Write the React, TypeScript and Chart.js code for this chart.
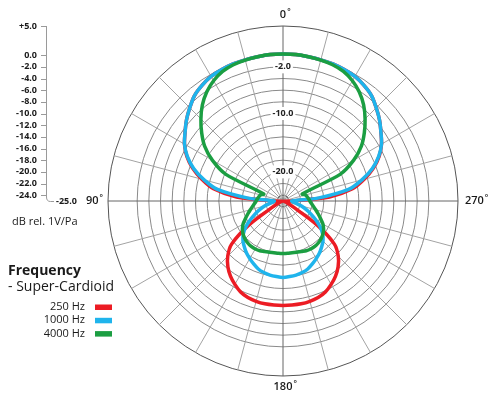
import { useEffect, useRef } from "react";
import { Chart, registerables } from "chart.js";

Chart.register(...registerables);

// Directions round the plot, in the order Chart.js lays them out (clockwise on
// screen). The plot counts degrees the other way, so 270 sits on the right.
const ANGLES = Array.from({ length: 72 }, (_, i) => (360 - i * 5) % 360);

// Response in dB rel. 1V/Pa, one value per entry of ANGLES
const HZ_250 = [
  0.2, 0.2, 0.1, 0.05, 0.0, -0.15, -0.35, -0.8, -1.4, -2.4, -3.4, -4.5, -5.5,
  -6.8, -8.5, -10.6, -12.9, -17.0, -23.5, -24.5, -24.8, -24.8, -24.6, -24.2,
  -23.0, -18.0, -13.5, -11.6, -10.3, -9.3, -8.5, -7.8, -7.4, -7.2, -7.1, -7.1,
  -7.1,
  -7.1, -7.1, -7.2, -7.4, -7.8, -8.5, -9.3, -10.3, -11.6, -13.5, -18.0, -23.0,
  -24.2, -24.6, -24.8, -24.8, -24.5, -23.5, -17.0, -12.9, -10.6, -8.5, -6.8,
  -5.5, -4.5, -3.4, -2.4, -1.4, -0.8, -0.35, -0.15, 0.0, 0.05, 0.1, 0.2,
];
const HZ_1000 = [
  0.2, 0.2, 0.1, 0.05, 0.0, -0.15, -0.35, -0.8, -1.4, -2.4, -3.4, -4.5, -5.5,
  -6.9, -8.7, -11.0, -13.6, -18.8, -23.5, -23.3, -22.7, -21.8, -20.8, -19.7,
  -18.5, -17.2, -16.1, -15.3, -14.7, -14.1, -13.6, -13.1, -12.6, -12.3, -12.1,
  -12.0, -11.9,
  -12.0, -12.1, -12.3, -12.6, -13.1, -13.6, -14.1, -14.7, -15.3, -16.1, -17.2,
  -18.5, -19.7, -20.8, -21.8, -22.7, -23.3, -23.5, -18.8, -13.6, -11.0, -8.7,
  -6.9, -5.5, -4.5, -3.4, -2.4, -1.4, -0.8, -0.35, -0.15, 0.0, 0.05, 0.1, 0.2,
];
const HZ_4000 = [
  0.2, 0.2, 0.1, 0.0, -0.15, -0.5, -1.2, -2.2, -3.5, -5.1, -6.8, -8.6, -11.0,
  -14.2, -21.5, -21.0, -20.8, -20.6, -20.4, -20.1, -19.7, -19.2, -18.6, -17.9,
  -17.1, -16.5, -16.1, -15.8, -15.6, -15.5, -15.5, -15.6, -15.8, -15.9, -16.0,
  -16.0, -16.0,
  -16.0, -16.0, -15.9, -15.8, -15.6, -15.5, -15.5, -15.6, -15.8, -16.1, -16.5,
  -17.1, -17.9, -18.6, -19.2, -19.7, -20.1, -20.4, -20.6, -20.8, -21.0, -21.5,
  -14.2, -11.0, -8.6, -6.8, -5.1, -3.5, -2.2, -1.2, -0.5, -0.15, 0.0, 0.1, 0.2,
];

const SERIES_NAMES = ["250 Hz", "1000 Hz", "4000 Hz"];
const SERIES_COLORS = ["#ec1c24", "#1fb4ec", "#1b9e42"];

// rings of the polar grid, and the side scale
const RINGS = [-25, -24, -22, -20, -18, -16, -14, -12, -10, -8, -6, -4, -2, 0, 5];
const RING_LABELS = [-2, -10, -20];
const SIDE_TICKS = [5, 0, -2, -4, -6, -8, -10, -12, -14, -16, -18, -20, -22, -24];
const SIDE_BOTTOM = -25;
const DIRECTION_LABELS = [0, 90, 180, 270];

const FONT = "'Open Sans', 'DejaVu Sans', sans-serif";
const fmt = (v: number) => (v > 0 ? "+" : "") + v.toFixed(1);

const decorations = {
  id: "decorations",
  afterDraw(chart: any) {
    const { ctx } = chart;
    const s = chart.scales.r;
    const R = s.drawingArea;
    const yOf = (v: number) => s.yCenter - s.getDistanceFromCenterForValue(v);
    ctx.save();
    ctx.fillStyle = "#1a1a1a";
    ctx.textBaseline = "middle";

    // 0 / 90 / 180 / 270 marks
    DIRECTION_LABELS.forEach((a) => {
      const i = ANGLES.indexOf(a);
      const num = String(a);
      ctx.font = `600 11px ${FONT}`;
      const w = ctx.measureText(num).width;
      ctx.font = `600 8px ${FONT}`;
      const wd = ctx.measureText("°").width;
      let x0: number, y0: number;
      if (a === 0 || a === 180) {
        const p = s.getPointPosition(i, R + 11);
        x0 = p.x - w / 2;
        y0 = p.y;
      } else if (a === 90) {
        const p = s.getPointPosition(i, R + 5);
        x0 = p.x - w - wd - 1;
        y0 = p.y;
      } else {
        const p = s.getPointPosition(i, R + 7);
        x0 = p.x;
        y0 = p.y;
      }
      ctx.textAlign = "left";
      ctx.font = `600 11px ${FONT}`;
      ctx.fillText(num, x0, y0);
      ctx.font = `600 8px ${FONT}`;
      ctx.fillText("°", x0 + w + 1, y0 - 3);
    });

    // side scale
    const ax = 46.5;
    const yBot = yOf(SIDE_BOTTOM);
    ctx.strokeStyle = "#9a9a9a";
    ctx.lineWidth = 1;
    ctx.beginPath();
    ctx.moveTo(ax, yOf(SIDE_TICKS[0]));
    ctx.lineTo(ax, yBot - 4);
    ctx.quadraticCurveTo(ax, yBot + 0.5, ax + 4, yBot + 0.5);
    ctx.lineTo(54, yBot + 0.5);
    SIDE_TICKS.forEach((v) => {
      const y = Math.round(yOf(v)) + 0.5;
      ctx.moveTo(41, y);
      ctx.lineTo(ax, y);
    });
    ctx.stroke();

    ctx.font = `bold 9px ${FONT}`;
    ctx.fillStyle = "#1a1a1a";
    ctx.textAlign = "right";
    SIDE_TICKS.forEach((v) => ctx.fillText(fmt(v), 37, yOf(v)));
    ctx.textAlign = "left";
    ctx.fillText(fmt(SIDE_BOTTOM), 56, yBot);

    ctx.textBaseline = "alphabetic";
    ctx.font = `11px ${FONT}`;
    ctx.fillText("dB rel. 1V/Pa", 12, 225);

    // legend block
    ctx.font = `bold 14px ${FONT}`;
    ctx.fillText("Frequency", 8, 275);
    ctx.font = `14px ${FONT}`;
    ctx.fillText("- Super-Cardioid", 8, 291);
    ctx.font = `11px ${FONT}`;
    ctx.textAlign = "right";
    chart.data.datasets.forEach((ds: any, k: number) => {
      const base = 310 + k * 13.3;
      ctx.fillStyle = "#1a1a1a";
      ctx.fillText(ds.label, 85, base);
      ctx.fillStyle = ds.borderColor;
      ctx.fillRect(95, base - 5.5, 17, 5.5);
    });
    ctx.restore();
  },
};

export default function App() {
  const canvasRef = useRef<HTMLCanvasElement | null>(null);
  const chartRef = useRef<Chart | null>(null);

  useEffect(() => {
    if (!canvasRef.current) return;
    if (chartRef.current) chartRef.current.destroy();

    const series = [HZ_250, HZ_1000, HZ_4000];
    chartRef.current = new Chart(canvasRef.current, {
      type: "radar",
      data: {
        labels: ANGLES.map((a) => a + "°"),
        datasets: series.map((data, k) => ({
          label: SERIES_NAMES[k],
          data,
          borderColor: SERIES_COLORS[k],
          backgroundColor: SERIES_COLORS[k],
          borderWidth: 3.5,
          borderJoinStyle: "round",
          fill: false,
          pointRadius: 0,
          tension: 0.25,
          order: 3 - k, // 4000 Hz on top
        })),
      },
      options: {
        animation: false,
        responsive: false,
        layout: { padding: { left: 101.5, top: 19.5, right: 35.3, bottom: 20.3 } },
        plugins: { legend: { display: false }, tooltip: { enabled: false } },
        scales: {
          r: {
            min: -25,
            max: 5,
            startAngle: 0,
            afterBuildTicks: (scale: any) => {
              scale.ticks = RINGS.map((v) => ({ value: v }));
            },
            grid: {
              circular: true,
              color: (c: any) =>
                c.tick && (c.tick.value === 5 || c.tick.value === -24) ? "#555" : "#8a8a8a",
              lineWidth: (c: any) => (c.tick && c.tick.value === -25 ? 0 : 1),
            },
            angleLines: {
              color: (c: any) => (c.index % 18 === 0 ? "#666" : "#a3a3a3"),
              lineWidth: (c: any) => (c.index % 3 === 0 ? 1 : 0),
            },
            pointLabels: { display: false },
            ticks: {
              display: true,
              font: { family: FONT, size: 9, weight: "bold", lineHeight: 1 },
              color: "#222",
              backdropColor: "#fff",
              backdropPadding: 2,
              showLabelBackdrop: (c: any) => !!c.tick && RING_LABELS.includes(c.tick.value),
              callback: (v: any) => (RING_LABELS.includes(Number(v)) ? Number(v).toFixed(1) : ""),
            },
          },
        },
      },
      plugins: [decorations],
    } as any);

    return () => {
      if (chartRef.current) {
        chartRef.current.destroy();
        chartRef.current = null;
      }
    };
  }, []);

  return (
    <div style={{ position: "fixed", left: 0, top: 0, width: 500, height: 403, background: "#fff" }}>
      <canvas ref={canvasRef} width={500} height={403} style={{ display: "block" }} />
    </div>
  );
}
